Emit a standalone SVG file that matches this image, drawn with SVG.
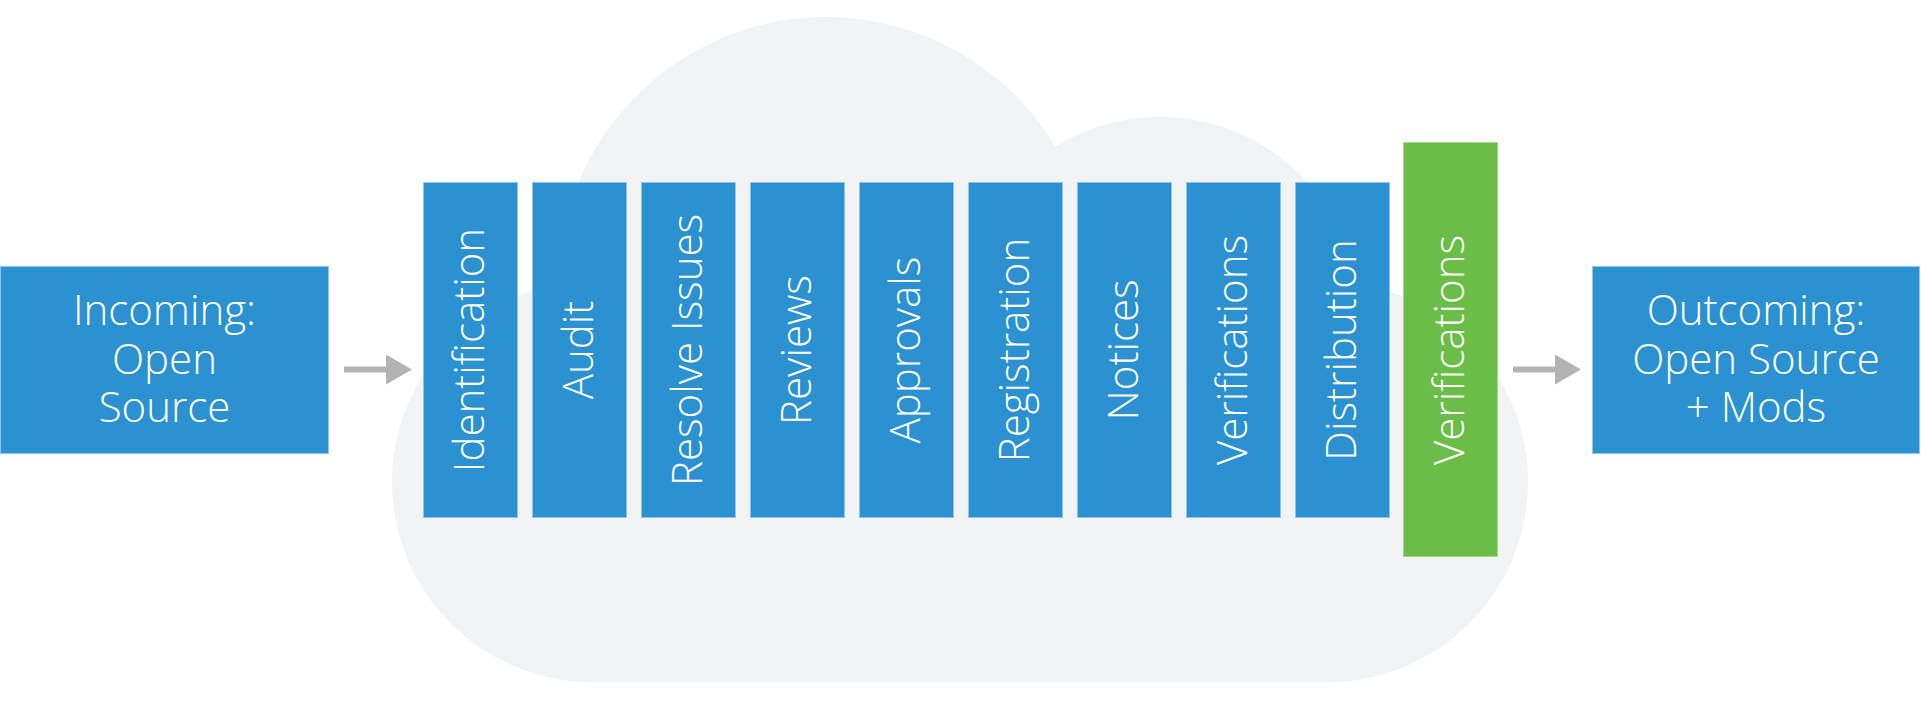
<svg xmlns="http://www.w3.org/2000/svg" width="1921" height="701" viewBox="0 0 1921 701">
  <style>
    .cloud { fill: #f2f3f5; }
    .box { fill: #2b91d1; stroke: #8ec5ea; stroke-width: 1; }
    .green { fill: #6abd46; stroke: #a5d78c; stroke-width: 1; }
    .lbl { font-family: "Open Sans", "Liberation Sans", sans-serif; font-weight: 300; font-size: 42px; fill: #ffffff; text-anchor: middle; }
    .conn { stroke: #b3b3b3; stroke-width: 6; fill: none; }
  </style>
  <defs>
    <marker id="arrow" markerUnits="userSpaceOnUse" markerWidth="26" markerHeight="30" viewBox="0 0 26 30" refX="1" refY="15" orient="auto">
      <path d="M0,0 L26,15 L0,30 Z" fill="#b3b3b3"/>
    </marker>
  </defs>

  <g id="cloud" class="cloud">
    <circle cx="592" cy="482" r="200"/>
    <circle cx="1328" cy="482" r="200"/>
    <circle cx="826" cy="285" r="268"/>
    <circle cx="1160" cy="317" r="200"/>
    <rect x="592" y="300" width="736" height="382"/>
  </g>

  <g id="connectors">
    <line class="conn" x1="344" y1="369.5" x2="387" y2="369.5" marker-end="url(#arrow)"/>
    <line class="conn" x1="1513" y1="369.5" x2="1556" y2="369.5" marker-end="url(#arrow)"/>
  </g>

  <g id="incoming">
    <rect class="box" x="0.5" y="266.5" width="328" height="187"/>
    <text class="lbl"><tspan x="164.5" y="325">Incoming:</tspan><tspan x="164.5" y="373.5">Open</tspan><tspan x="164.5" y="422">Source</tspan></text>
  </g>

  <g id="identification">
    <rect class="box" x="423.5" y="182.5" width="94" height="335"/>
    <text class="lbl" transform="translate(484 350) rotate(-90)">Identification</text>
  </g>
  <g id="audit">
    <rect class="box" x="532.5" y="182.5" width="94" height="335"/>
    <text class="lbl" transform="translate(593 350) rotate(-90)">Audit</text>
  </g>
  <g id="resolve-issues">
    <rect class="box" x="641.5" y="182.5" width="94" height="335"/>
    <text class="lbl" transform="translate(702 350) rotate(-90)">Resolve Issues</text>
  </g>
  <g id="reviews">
    <rect class="box" x="750.5" y="182.5" width="94" height="335"/>
    <text class="lbl" transform="translate(811 350) rotate(-90)">Reviews</text>
  </g>
  <g id="approvals">
    <rect class="box" x="859.5" y="182.5" width="94" height="335"/>
    <text class="lbl" transform="translate(920 350) rotate(-90)">Approvals</text>
  </g>
  <g id="registration">
    <rect class="box" x="968.5" y="182.5" width="94" height="335"/>
    <text class="lbl" transform="translate(1029 350) rotate(-90)">Registration</text>
  </g>
  <g id="notices">
    <rect class="box" x="1077.5" y="182.5" width="94" height="335"/>
    <text class="lbl" transform="translate(1138 350) rotate(-90)">Notices</text>
  </g>
  <g id="verifications-1">
    <rect class="box" x="1186.5" y="182.5" width="94" height="335"/>
    <text class="lbl" transform="translate(1247 350) rotate(-90)">Verifications</text>
  </g>
  <g id="distribution">
    <rect class="box" x="1295.5" y="182.5" width="94" height="335"/>
    <text class="lbl" transform="translate(1356 350) rotate(-90)">Distribution</text>
  </g>
  <g id="verifications-2">
    <rect class="green" x="1403.5" y="142.5" width="94" height="414"/>
    <text class="lbl" transform="translate(1464 350) rotate(-90)">Verifications</text>
  </g>

  <g id="outcoming">
    <rect class="box" x="1592.5" y="266.5" width="327" height="187"/>
    <text class="lbl"><tspan x="1756" y="325">Outcoming:</tspan><tspan x="1756" y="373.5">Open Source</tspan><tspan x="1756" y="422">+ Mods</tspan></text>
  </g>
</svg>
